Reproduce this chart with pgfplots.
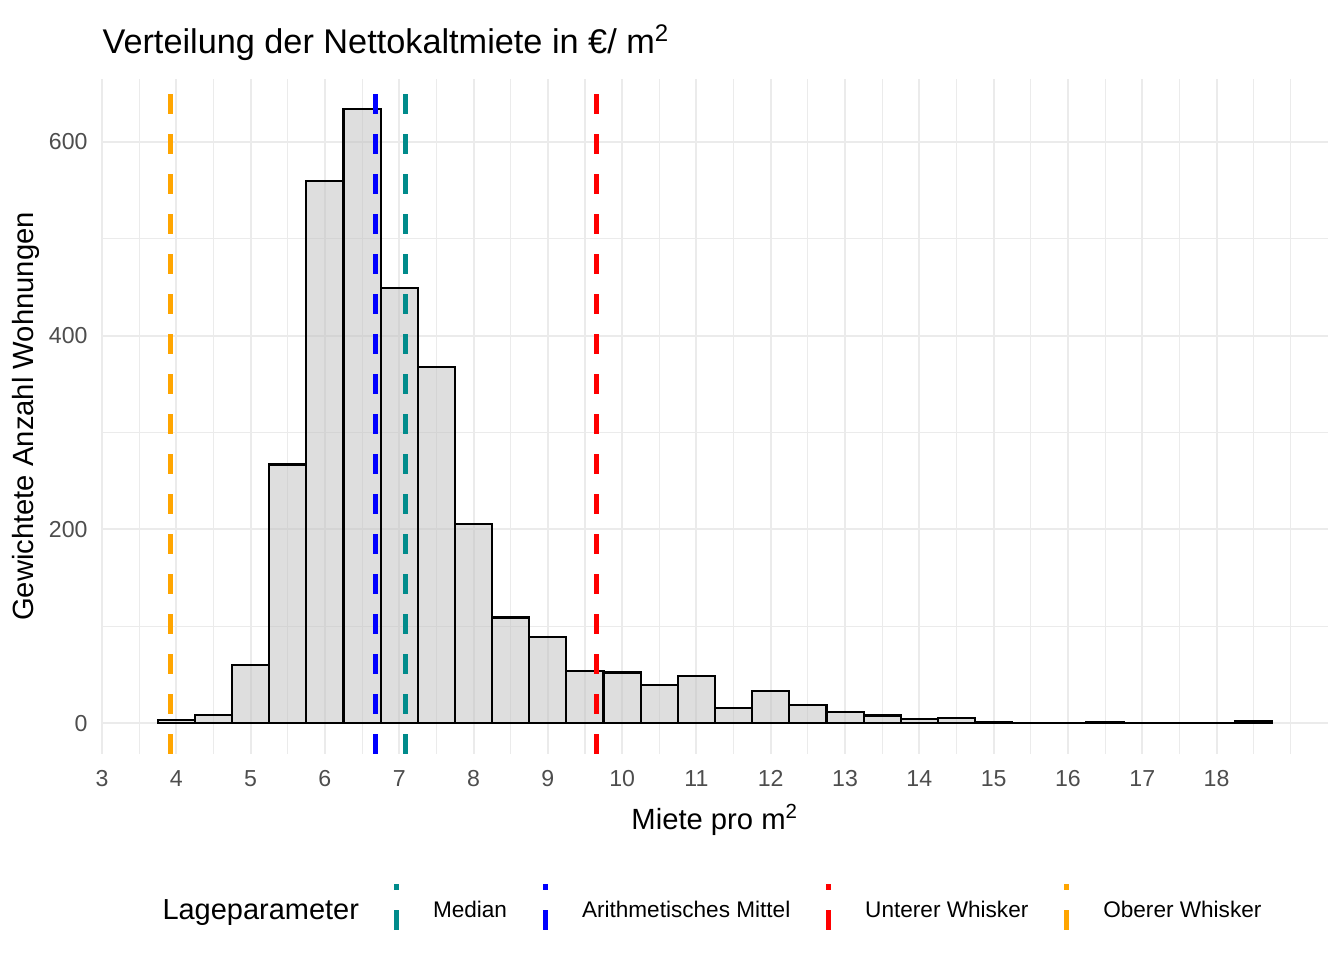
\documentclass[border=0pt]{standalone}
\usepackage{fontspec}
\setmainfont{Liberation Sans}
\usepackage{pgfplots}
\pgfplotsset{compat=1.18}
\definecolor{gridgray}{HTML}{EBEBEB}
\definecolor{tickgray}{HTML}{4D4D4D}
\definecolor{barfill}{HTML}{BEBEBE}
\definecolor{medianc}{HTML}{008B8B}
\definecolor{meanc}{HTML}{0000FF}
\definecolor{lowc}{HTML}{FF0000}
\definecolor{highc}{HTML}{FFA500}
\begin{document}
\begin{tikzpicture}
\path[use as bounding box] (0,0) rectangle (504bp,360bp);
\begin{axis}[
  at={(38.25bp,77.25bp)}, anchor=south west,
  scale only axis, width=459.75bp, height=253.1bp,
  xmin=3, xmax=19.5, ymin=-31.65, ymax=664.65,
  axis line style={draw=none}, tick style={draw=none},
  major tick length=0pt, minor tick length=0pt,
  xtick={3,4,...,18}, ytick={0,200,400,600},
  minor xtick={3.5,4.5,...,18.5,19}, minor ytick={100,300,500},
  grid=both,
  major grid style={color=gridgray, line width=0.75bp},
  minor grid style={color=gridgray, line width=0.4bp},
  tick label style={font=\fontsize{8.7}{10}\selectfont, text=tickgray},
  xticklabel style={inner sep=0pt, anchor=north, yshift=-5.9bp},
  yticklabel style={inner sep=0pt, anchor=east, xshift=-5.25bp},
  /pgf/number format/assume math mode=true,
  legend style={at={(0.2378,-0.2266)}, anchor=west, draw=none, fill=none,
    inner sep=0pt, outer sep=0pt, legend columns=4,
    font=\fontsize{8.5}{10}\selectfont,
    nodes={inner sep=0pt},
    /tikz/every odd column/.append style={column sep=12.9bp},
    /tikz/every even column/.append style={column sep=13.3bp}},
  legend cell align=left,
  legend image code/.code={\draw[#1, line width=1.9bp, dash pattern=on 7.5bp off 7.5bp] (0bp,-6.9bp) -- (0bp,10.3bp);},
]
\addplot[ybar interval, fill=barfill, fill opacity=0.5, draw=black, line width=0.8bp, forget plot] coordinates {
(3.75,3) (4.25,9) (4.75,60) (5.25,267) (5.75,559.4) (6.25,633.5) (6.75,449) (7.25,368)
(7.75,205.2) (8.25,109.2) (8.75,88.9) (9.25,54.2) (9.75,52.4) (10.25,39.2) (10.75,48.5)
(11.25,16.2) (11.75,33.7) (12.25,18.6) (12.75,12.0) (13.25,8.0) (13.75,4.4) (14.25,5.2)
(14.75,1.3) (15.25,0.3) (15.75,0) (16.25,1.5) (16.75,0.2) (17.25,0.1) (17.75,0.1)
(18.25,2.4) (18.75,2.4)
};
\addplot[color=highc, line width=1.9bp, dash pattern=on 7.5bp off 7.5bp, forget plot] coordinates {(3.92,-31.65) (3.92,664.65)};
\addplot[color=meanc, line width=1.9bp, dash pattern=on 7.5bp off 7.5bp, forget plot] coordinates {(6.68,-31.65) (6.68,664.65)};
\addplot[color=medianc, line width=1.9bp, dash pattern=on 7.5bp off 7.5bp, forget plot] coordinates {(7.08,-31.65) (7.08,664.65)};
\addplot[color=lowc, line width=1.9bp, dash pattern=on 7.5bp off 7.5bp, forget plot] coordinates {(9.65,-31.65) (9.65,664.65)};
\addlegendimage{color=medianc}
\addlegendentry{Median}
\addlegendimage{color=meanc}
\addlegendentry{Arithmetisches Mittel}
\addlegendimage{color=lowc}
\addlegendentry{Unterer Whisker}
\addlegendimage{color=highc}
\addlegendentry{Oberer Whisker}
\end{axis}
\node[anchor=base west, font=\fontsize{12.9}{15}\selectfont, inner sep=0pt] at (38.25bp,340.1bp) {Verteilung der Nettokaltmiete in €/ m\textsuperscript{2}};
\node[anchor=base, font=\fontsize{11}{13}\selectfont, inner sep=0pt] at (268.1bp,49.1bp) {Miete pro m\textsuperscript{2}};
\node[anchor=base, rotate=90, font=\fontsize{11}{13}\selectfont, inner sep=0pt] at (12.6bp,203.8bp) {Gewichtete Anzahl Wohnungen};
\node[anchor=base west, font=\fontsize{10.9}{13}\selectfont, inner sep=0pt] at (60.75bp,15.2bp) {Lageparameter};
\end{tikzpicture}
\end{document}
